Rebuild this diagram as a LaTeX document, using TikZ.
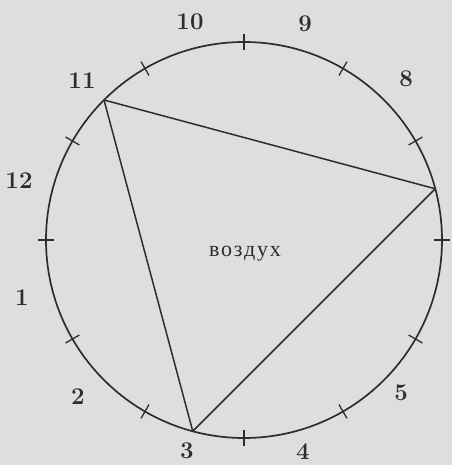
\documentclass[tikz,border=0pt]{standalone}
\usepackage{fontspec}
\newfontfamily\cyr[LetterSpace=8]{Liberation Serif}
\definecolor{bg}{RGB}{222,222,220}
\definecolor{ink}{RGB}{45,45,45}
\tikzset{
  rim/.style={draw=ink, line width=1.7pt},
  ticmark/.style={draw=ink, line width=1.3pt},
  chord/.style={draw=ink, line width=1.5pt, line join=round},
  num/.style={font=\fontsize{24}{24}\selectfont\bfseries, text=ink, inner sep=0pt},
  word/.style={font=\cyr\fontsize{22}{22}\selectfont, text=ink, inner sep=0pt}
}
\begin{document}
\begin{tikzpicture}[x=1pt,y=-1pt]
\fill[bg] (0,0) rectangle (452,465);
\useasboundingbox (0,0) rectangle (452,465);
\coordinate (O) at (244,240);
\node[circle, rim, minimum size=396pt, inner sep=0pt, outer sep=0pt] (c) at (O) {};
\foreach \a in {0,30,...,330}
  \draw[ticmark] (c.\a) ++(\a:-8pt) -- ++(\a:16pt);
\coordinate (A) at (c.135);
\coordinate (B) at (c.15);
\coordinate (C) at (c.255);
\draw[chord] (A) -- (B) -- (C) -- cycle;
\node[word, anchor=base] (air) at (245,256) {воздух};
\node[num] (n10) at (190,22) {10};
\node[num] (n9)  at (305,24) {9};
\node[num] (n8)  at (406,79) {8};
\node[num] (n11) at (82,81) {11};
\node[num] (n12) at (19,181) {12};
\node[num] (n1)  at (22,298) {1};
\node[num] (n2)  at (78,397) {2};
\node[num] (n3)  at (187,451) {3};
\node[num] (n4)  at (303,452) {4};
\node[num] (n5)  at (401,393) {5};
\end{tikzpicture}
\end{document}
